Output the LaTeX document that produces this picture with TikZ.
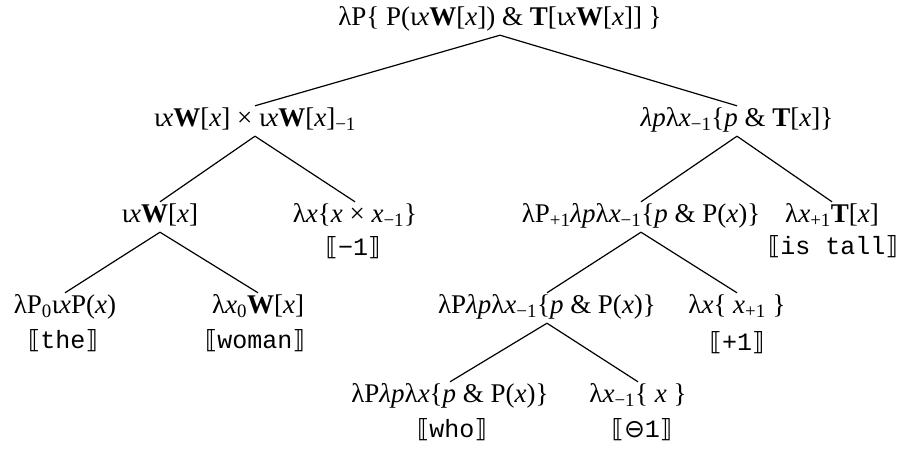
\documentclass[tikz,border=0pt]{standalone}
\usepackage{fontspec}
\setmainfont{Liberation Serif}
\setmonofont{Liberation Mono}
\newfontfamily\symf{DejaVu Sans}
\newcommand\lb{{\symf ⟦}}
\newcommand\rb{{\symf ⟧}}
\newcommand\sbs[1]{\textsubscript{#1}}
\begin{document}
\begin{tikzpicture}[x=1pt,y=-1pt,
  lab/.style={font=\fontsize{27}{31}\selectfont, inner xsep=0pt, inner ysep=3.5pt, text height=17pt, text depth=6pt},
  brk/.style={font=\fontsize{25}{30}\selectfont, inner sep=0pt},
  edge/.style={line width=1.2pt}]
\useasboundingbox (0,0) rectangle (903,455);
\node[lab] (r) at (500,20) {λP\{ P(ι\textit{x}\textbf{W}[\textit{x}]) \& \textbf{T}[ι\textit{x}\textbf{W}[\textit{x}]] \}};
\node[lab] (n1) at (255,121) {ι\textit{x}\textbf{W}[\textit{x}] × ι\textit{x}\textbf{W}[\textit{x}]\sbs{−1}};
\node[lab] (n2) at (737,121) {\textit{λp}λ\textit{x}\sbs{−1}\{\textit{p} \& \textbf{T}[\textit{x}]\}};
\node[lab] (n11) at (160,217) {ι\textit{x}\textbf{W}[\textit{x}]};
\node[lab] (n12) at (355,217) {λ\textit{x}\{\textit{x} × \textit{x}\sbs{−1}\}};
\node[brk] (b12) at (353,248) {\lb\texttt{−1}\rb};
\node[lab] (n21) at (641,217) {λP\sbs{+1}\textit{λp}λ\textit{x}\sbs{−1}\{\textit{p} \& P(\textit{x})\}};
\node[lab] (n22) at (832,217) {λ\textit{x}\sbs{+1}\textbf{T}[\textit{x}]};
\node[brk] (b22) at (833,247) {\lb\texttt{is tall}\rb};
\node[lab] (n111) at (65,308) {λP\sbs{0}ι\textit{x}P(\textit{x})};
\node[brk] (b111) at (63,341) {\lb\texttt{the}\rb};
\node[lab] (n112) at (258,308) {λ\textit{x}\sbs{0}\textbf{W}[\textit{x}]};
\node[brk] (b112) at (255,341) {\lb\texttt{woman}\rb};
\node[lab] (n211) at (547,308) {λP\textit{λp}λ\textit{x}\sbs{−1}\{\textit{p} \& P(\textit{x})\}};
\node[lab] (n212) at (737,308) {λ\textit{x}\{ \textit{x}\sbs{+1} \}};
\node[brk] (b212) at (737,343) {\lb\texttt{+1}\rb};
\node[lab] (n2111) at (450,397) {λP\textit{λp}λ\textit{x}\{\textit{p} \& P(\textit{x})\}};
\node[brk] (b2111) at (452,430) {\lb\texttt{who}\rb};
\node[lab] (n2112) at (638,397) {λ\textit{x}\sbs{−1}\{ \textit{x} \}};
\node[brk] (b2112) at (642,430) {\lb{\symf ⊖}\texttt{1}\rb};
\draw[edge] (r.south) -- (n1.north);
\draw[edge] (r.south) -- (n2.north);
\draw[edge] (n1.south) -- (n11.north);
\draw[edge] (n1.south) -- (n12.north);
\draw[edge] (n2.south) -- (n21.north);
\draw[edge] (n2.south) -- (n22.north);
\draw[edge] (n11.south) -- (n111.north);
\draw[edge] (n11.south) -- (n112.north);
\draw[edge] (n21.south) -- (n211.north);
\draw[edge] (n21.south) -- (n212.north);
\draw[edge] (n211.south) -- (n2111.north);
\draw[edge] (n211.south) -- (n2112.north);
\end{tikzpicture}
\end{document}
